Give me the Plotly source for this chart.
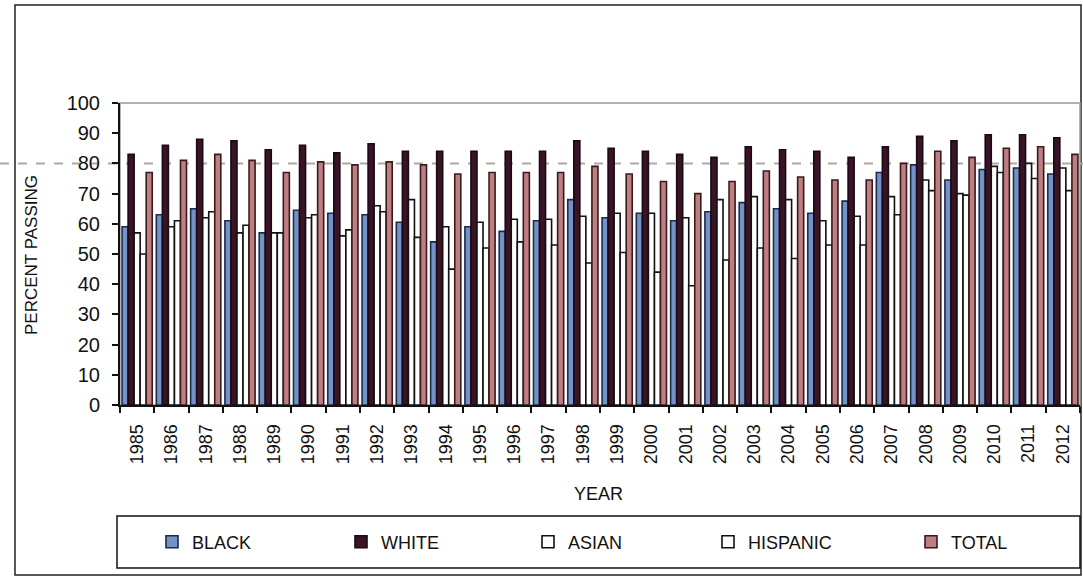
import plotly.graph_objects as go

years = [str(y) for y in range(1985, 2013)]
black = [59, 63, 65, 61, 57, 64.5, 63.5, 63, 60.5, 54, 59, 57.5, 61, 68, 62, 63.5, 61, 64, 67, 65, 63.5, 67.5, 77, 79.5, 74.5, 78, 78.5, 76.5]
white = [83, 86, 88, 87.5, 84.5, 86, 83.5, 86.5, 84, 84, 84, 84, 84, 87.5, 85, 84, 83, 82, 85.5, 84.5, 84, 82, 85.5, 89, 87.5, 89.5, 89.5, 88.5]
asian = [57, 59, 62, 57, 57, 62, 56, 66, 68, 59, 60.5, 61.5, 61.5, 62.5, 63.5, 63.5, 62, 68, 69, 68, 61, 62.5, 69, 74.5, 70, 79, 80, 78.5]
hispanic = [50, 61, 64, 59.5, 57, 63, 58, 64, 55.5, 45, 52, 54, 53, 47, 50.5, 44, 39.5, 48, 52, 48.5, 53, 53, 63, 71, 69.5, 77, 75, 71]
total = [77, 81, 83, 81, 77, 80.5, 79.5, 80.5, 79.5, 76.5, 77, 77, 77, 79, 76.5, 74, 70, 74, 77.5, 75.5, 74.5, 74.5, 80, 84, 82, 85, 85.5, 83]

series = [
    ("BLACK", black, "#7393c8", "#1d2a48"),
    ("WHITE", white, "#3a1326", "#1a0a12"),
    ("ASIAN", asian, "#ffffff", "#111111"),
    ("HISPANIC", hispanic, "#ffffff", "#111111"),
    ("TOTAL", total, "#bd7f81", "#3a1a1c"),
]

W, H = 1083, 577
L, R, T, B = 120, 3, 103, 172
pw = W - L - R
ph = H - T - B


def px(x):
    return (x - L) / pw


def py(y):
    return (H - B - y) / ph


FONT = "Liberation Sans, Arial, sans-serif"
fig = go.Figure()
legend_names = ["legend", "legend2", "legend3", "legend4", "legend5"]
for i, (name, vals, fill, edge) in enumerate(series):
    fig.add_trace(go.Bar(
        x=years, y=vals, name=name,
        marker=dict(color=fill, line=dict(color=edge, width=1.6)),
        legend=legend_names[i],
    ))

legend_left = [152, 341, 528, 708, 911]
layout_legends = {}
for i, ln in enumerate(legend_names):
    layout_legends[ln] = dict(
        x=px(legend_left[i]), xanchor="left",
        y=py(542), yanchor="middle",
        orientation="h", bgcolor="rgba(0,0,0,0)", borderwidth=0,
        font=dict(family=FONT, size=18, color="#111"),
    )

shapes = [
    dict(type="rect", xref="paper", yref="paper", x0=px(15), x1=px(1081), y0=py(5), y1=py(575),
         line=dict(color="#222", width=1.5), layer="below"),
    dict(type="rect", xref="paper", yref="paper", x0=0, x1=1, y0=0, y1=1,
         line=dict(color="#9a9a9a", width=1.5), layer="below"),
    dict(type="line", xref="paper", yref="y", x0=px(0), x1=px(1083), y0=80, y1=80,
         line=dict(color="#b0a8a4", width=2, dash="dash"), layer="below"),
    dict(type="rect", xref="paper", yref="paper", x0=px(117), x1=px(1080), y0=py(516), y1=py(568),
         line=dict(color="#111", width=1.5)),
]

annotations = [
    dict(text="PERCENT PASSING", xref="paper", yref="paper", x=px(31), y=py(255),
         textangle=-90, showarrow=False, xanchor="center", yanchor="middle",
         font=dict(family=FONT, size=17, color="#111")),
    dict(text="YEAR", xref="paper", yref="paper", x=px(598), y=py(494),
         showarrow=False, xanchor="center", yanchor="middle",
         font=dict(family=FONT, size=18, color="#111")),
]

fig.update_layout(
    width=W, height=H,
    margin=dict(l=L, r=R, t=T, b=B, pad=0),
    paper_bgcolor="white", plot_bgcolor="white",
    barmode="group", bargap=0.12, bargroupgap=0,
    shapes=shapes, annotations=annotations,
    showlegend=True,
    **layout_legends,
)
fig.update_xaxes(
    type="category", showline=True, linecolor="#111", linewidth=2,
    ticks="outside", tickson="boundaries", ticklen=6, tickcolor="#111", tickwidth=2,
    tickangle=-90, ticklabelstandoff=10,
    tickfont=dict(family=FONT, size=18, color="#111"), showgrid=False,
)
fig.update_yaxes(
    range=[0, 100], tickvals=list(range(0, 101, 10)),
    showline=True, linecolor="#111", linewidth=2,
    ticks="outside", ticklen=6, tickcolor="#111", tickwidth=2, ticklabelstandoff=8,
    tickfont=dict(family=FONT, size=20, color="#111"), showgrid=False, zeroline=False,
)

fig.write_html(
    "out.html",
    config={"displayModeBar": False},
    post_script="document.body.style.margin='0';document.body.style.overflow='hidden';",
)
